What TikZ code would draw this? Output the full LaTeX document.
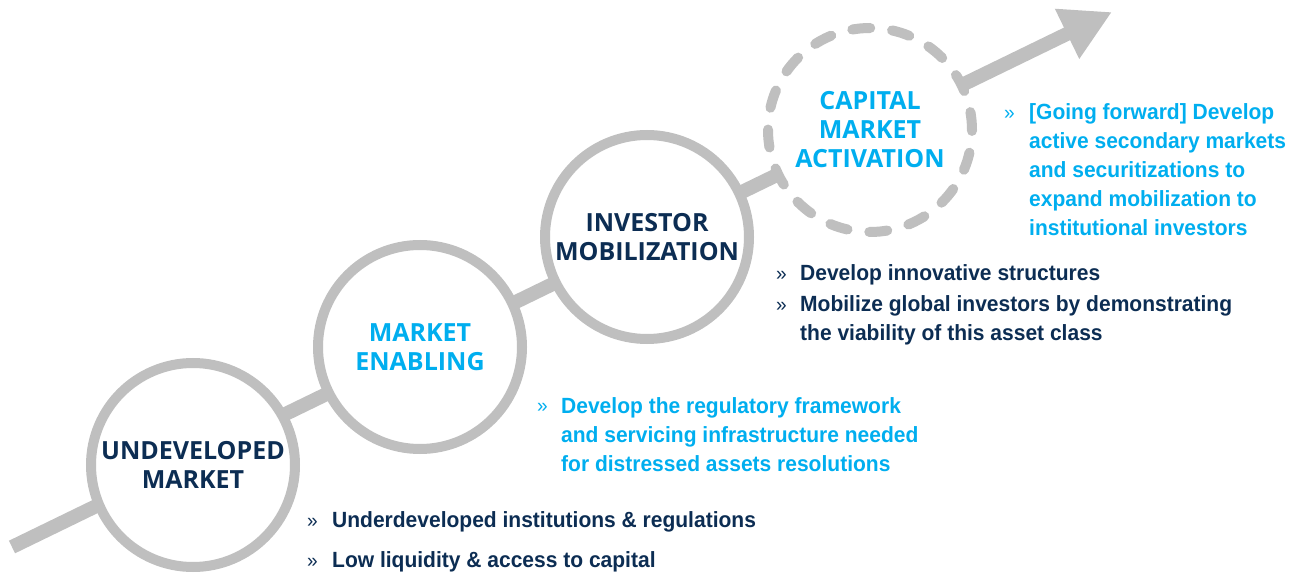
\documentclass[tikz,border=0pt]{standalone}
\usepackage{fontspec}
\usepackage{xcolor}
\setmainfont{Liberation Sans}
\newfontfamily\stagefont{Open Sans}
\newfontfamily\itemfont[FakeStretch=0.955]{Liberation Sans}
\usetikzlibrary{arrows.meta,positioning}
\definecolor{navy}{HTML}{0C2D53}
\definecolor{sky}{HTML}{00AEEF}
\definecolor{ring}{HTML}{BFBFBF}

\begin{document}
\begin{tikzpicture}[x=1pt,y=-1pt,
	stage/.style={circle,draw=ring,line width=10pt,fill=white,minimum size=204pt,inner sep=0pt,align=center,font=\stagefont\bfseries\fontsize{25}{29}\selectfont},
	future/.style={stage,dash pattern=on 18pt off 22pt,line cap=round},
	itemtext/.style={anchor=base west,inner sep=0pt,align=left,font=\itemfont\bfseries\fontsize{22}{29}\selectfont},
	chev/.style={anchor=base west,inner sep=0pt,font=\itemfont\fontsize{20}{29}\selectfont},
	trend/.style={draw=ring,line width=14pt,-{Triangle[length=50pt,width=52pt]}}]
	\useasboundingbox (0,0) rectangle (1294,577);
	\coordinate (start) at (12,547);
	\coordinate (tip) at (1112,12);
	\draw [trend] (start) -- (tip);
	%
	\node[stage,text=navy] (U) at (193,465) {UNDEVELOPED\\MARKET};
	\node[stage,text=sky] (E) at (420,347) {MARKET\\ENABLING};
	\node[stage,text=navy] (I) at (647,237) {INVESTOR\\MOBILIZATION};
	\node[future,text=sky] (C) at (870,130) {CAPITAL\\MARKET\\ACTIVATION};
	%
	% multi-line items are placed by the baseline of their last line
	\node[chev,text=navy] (bU1) at (307,527) {»};
	\node[itemtext,text=navy] (U1) at (332,527) {Underdeveloped institutions \& regulations};
	\node[chev,text=navy] (bU2) at (307,567) {»};
	\node[itemtext,text=navy] (U2) at (332,567) {Low liquidity \& access to capital};
	%
	\node[chev,text=sky] (bE1) at (537,413) {»};
	\node[itemtext,text=sky] (E1) at (561,471) {Develop the regulatory framework\\and servicing infrastructure needed\\for distressed assets resolutions};
	%
	\node[chev,text=navy] (bI1) at (776,281) {»};
	\node[itemtext,text=navy] (I1) at (800,281) {Develop innovative structures};
	\node[chev,text=navy] (bI2) at (776,312) {»};
	\node[itemtext,text=navy] (I2) at (800,341) {Mobilize global investors by demonstrating\\the viability of this asset class};
	%
	\node[chev,text=sky] (bC1) at (1004,120) {»};
	\node[itemtext,text=sky] (C1) at (1029,236) {[Going forward] Develop\\active secondary markets\\and securitizations to\\expand mobilization to\\institutional investors};
\end{tikzpicture}
\end{document}
